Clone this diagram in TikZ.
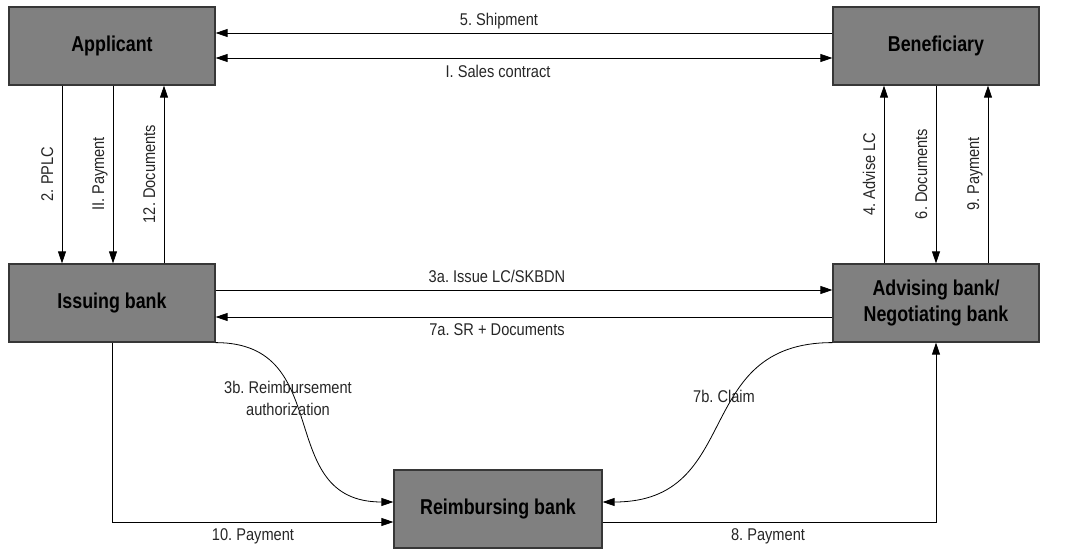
\documentclass[tikz,border=0pt]{standalone}
\usepackage{fontspec}
\setmainfont{Liberation Sans}
\newfontfamily\narrowbox[FakeStretch=0.83]{Liberation Sans}
\newfontfamily\narrowlbl[FakeStretch=0.86]{Liberation Sans}
\usetikzlibrary{arrows.meta}
\definecolor{boxfill}{RGB}{128,128,128}
\definecolor{boxline}{RGB}{55,55,55}
\frenchspacing
\begin{document}
\begin{tikzpicture}[x=1pt,y=-1pt,
  box/.style={draw=boxline, fill=boxfill, line width=1.2pt, minimum width=206pt, minimum height=78pt,
    font=\narrowbox\fontsize{21.5}{26.5}\selectfont\bfseries, align=center, inner sep=0pt},
  arr/.style={-{Triangle[length=12pt,width=8pt]}, line width=0.8pt},
  darr/.style={{Triangle[length=12pt,width=8pt]}-{Triangle[length=12pt,width=8pt]}, line width=0.8pt},
  lbl/.style={font=\narrowlbl\fontsize{17}{22}\selectfont, inner sep=0pt, text=black!85},
  vlbl/.style={lbl, rotate=90, anchor=base},
]
\useasboundingbox (0,0) rectangle (1074,549);

% boxes
\node[box] (app) at (112,46) {Applicant};
\node[box] (ben) at (936,46) {Beneficiary};
\node[box] (iss) at (112,303) {Issuing bank};
\node[box] (adv) at (936,303) {Advising bank/\\Negotiating bank};
\node[box, minimum width=208pt] (rei) at (498,509) {Reimbursing bank};

% helper coordinates
\coordinate (y33) at (0,33);
\coordinate (y58) at (0,58);
\coordinate (y290) at (0,290);
\coordinate (y317) at (0,317);
\coordinate (y502) at (0,502);
\coordinate (y522) at (0,522);
\coordinate (x62) at (62,0);
\coordinate (x113) at (113,0);
\coordinate (x164) at (164,0);
\coordinate (x884) at (884,0);
\coordinate (x936) at (936,0);
\coordinate (x988) at (988,0);

% top horizontal
\draw[arr] (ben.west |- y33) -- (app.east |- y33);
\draw[darr] (app.east |- y58) -- (ben.west |- y58);
\node[lbl, anchor=base] (l5) at (499,25) {5. Shipment};
\node[lbl, anchor=base] (lI) at (498,77) {I. Sales contract};

% left verticals
\draw[arr] (app.south -| x62) -- (iss.north -| x62);
\draw[arr] (app.south -| x113) -- (iss.north -| x113);
\draw[arr] (iss.north -| x164) -- (app.south -| x164);
\node[vlbl] (l2) at (53,174) {2. PPLC};
\node[vlbl] (lII) at (104,174) {II. Payment};
\node[vlbl] (l12) at (155,174) {12. Documents};

% right verticals
\draw[arr] (adv.north -| x884) -- (ben.south -| x884);
\draw[arr] (ben.south -| x936) -- (adv.north -| x936);
\draw[arr] (adv.north -| x988) -- (ben.south -| x988);
\node[vlbl] (l4) at (875,174) {4. Advise LC};
\node[vlbl] (l6) at (927,174) {6. Documents};
\node[vlbl] (l9) at (979,174) {9. Payment};

% middle horizontal
\draw[arr] (iss.east |- y290) -- (adv.west |- y290);
\draw[arr] (adv.west |- y317) -- (iss.east |- y317);
\node[lbl, anchor=base] (l3a) at (497,282) {3a. Issue LC/SKBDN};
\node[lbl, anchor=base] (l7a) at (497,335) {7a. SR + Documents};

% curves
\draw[arr] (iss.south east) to[out=0,in=180,looseness=1.3] (rei.west |- y502);
\draw[arr] (adv.south west) to[out=180,in=0,looseness=1.3] (rei.east |- y502);
\node[lbl, align=center] (l3b) at (288,398) {3b. Reimbursement\\authorization};
\node[lbl, anchor=base] (l7b) at (724,402) {7b. Claim};

% bottom payments
\draw[arr] (iss.south) |- (rei.west |- y522);
\draw[arr] (rei.east |- y522) -| (adv.south);
\node[lbl, anchor=base] (l10) at (253,540) {10. Payment};
\node[lbl, anchor=base] (l8) at (768,540) {8. Payment};
\end{tikzpicture}
\end{document}
